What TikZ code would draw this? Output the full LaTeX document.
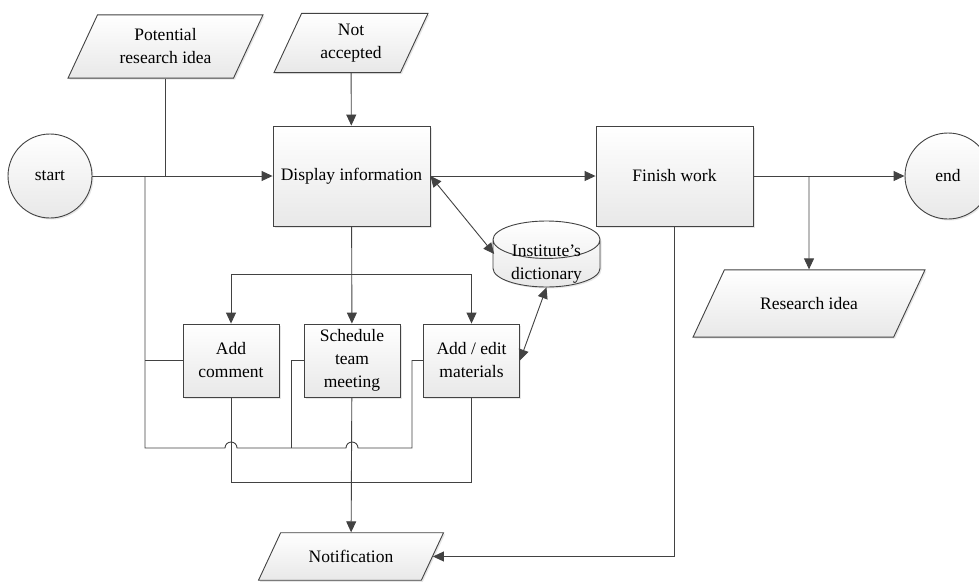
\documentclass[tikz,border=0pt]{standalone}
\usepackage{fontspec}
\setmainfont{Liberation Serif}
\usetikzlibrary{shapes.geometric,arrows.meta,shadows}
\definecolor{linegray}{RGB}{66,66,66}

\begin{document}
\begin{tikzpicture}[x=1pt,y=1pt]
        \tikzstyle{every node}+=[inner sep=0pt,font=\fontsize{17.5}{23}\selectfont,align=center]
        \tikzstyle{shade}=[draw=linegray,line width=0.9pt,top color=white,bottom color=black!9,
                drop shadow={shadow xshift=1.5pt,shadow yshift=-1.5pt,opacity=0.2}]
        \tikzstyle{proc}=[shade,rectangle]
        \tikzstyle{io}=[shade,trapezium,trapezium left angle=65,trapezium right angle=115,trapezium stretches body]
        \tikzstyle{term}=[shade,circle]
        \tikzstyle{store}=[shade,cylinder,shape border rotate=90,aspect=0.35,inner xsep=53.5,anchor=shape center]
        \tikzstyle{line}=[draw=linegray,line width=0.9pt]
        \tikzstyle{flow}=[line,-{Triangle[length=11pt,width=10pt]}]
        \tikzstyle{both}=[line,{Triangle[length=11pt,width=10pt]}-{Triangle[length=11pt,width=10pt]}]
        \useasboundingbox (0,0) rectangle (979,-581);
        % terminals
        \node [term,minimum size=84] (start) at (50,-176) {start};
        \node [term,minimum size=86] (end) at (948,-176) {end};
        % inputs and outputs
        \node [io,minimum width=195,inner ysep=14] (idea) at (165.5,-46.5) {Potential\\research idea};
        \node [io,minimum width=154,inner ysep=10.5] (notacc) at (351,-43) {Not\\accepted};
        \node [io,minimum width=232,inner ysep=27.5] (result) at (809,-303.5) {Research idea};
        \node [io,minimum width=185,inner ysep=17.5] (notif) at (351,-556.5) {Notification};
        % main steps
        \node [proc,minimum width=157,minimum height=100] (disp) at (351.5,-176) {Display information};
        \node [proc,minimum width=157,minimum height=100] (finish) at (674.5,-176) {Finish work};
        \node [store,minimum height=66,
                label={[yshift=9pt]center:Institute's\\dictionary}] (dict) at (546.5,-254) {};
        % tasks
        \node [proc,minimum width=96,minimum height=73] (comment) at (231,-360.5) {Add\\comment};
        \node [proc,minimum width=96,minimum height=73] (meet) at (352,-360.5) {Schedule\\team\\meeting};
        \node [proc,minimum width=96,minimum height=73] (edit) at (471.5,-360.5) {Add / edit\\materials};
        \coordinate (busL) at (145,-176);
        \coordinate (fork) at (352,-274);
        \coordinate (split) at (result.north |- end.west);
        % main line
        \draw [flow] (start) -- (disp);
        \draw [line] (idea.south) -- (idea.south |- start);
        \draw [flow] (notacc) -- (disp);
        \draw [flow] (disp) -- (finish);
        \draw [flow] (finish) -- (end);
        \draw [flow] (split) -- (result);
        \draw [flow] (finish.south) |- (notif.east);
        \draw [both] (disp.east) -- (dict.west |- dict.shape center);
        \draw [both] (dict.south) -- (edit.east);
        % to the tasks
        \draw [flow] (disp) -- (meet);
        \draw [flow] (fork) -| (comment);
        \draw [flow] (fork) -| (edit);
        % back to the start line
        \draw [line] (busL) |- (225,-448) arc (180:0:6) -- (346,-448) arc (180:0:6) -- (412,-448) |- (edit.west);
        \draw [line] (busL |- comment.west) -- (comment.west);
        \draw [line] (291,-448) |- (meet.west);
        % to notification
        \draw [line] (comment.south) -- ++(0,-85) -| (edit.south);
        \draw [flow] (meet) -- (notif);
\end{tikzpicture}
\end{document}
